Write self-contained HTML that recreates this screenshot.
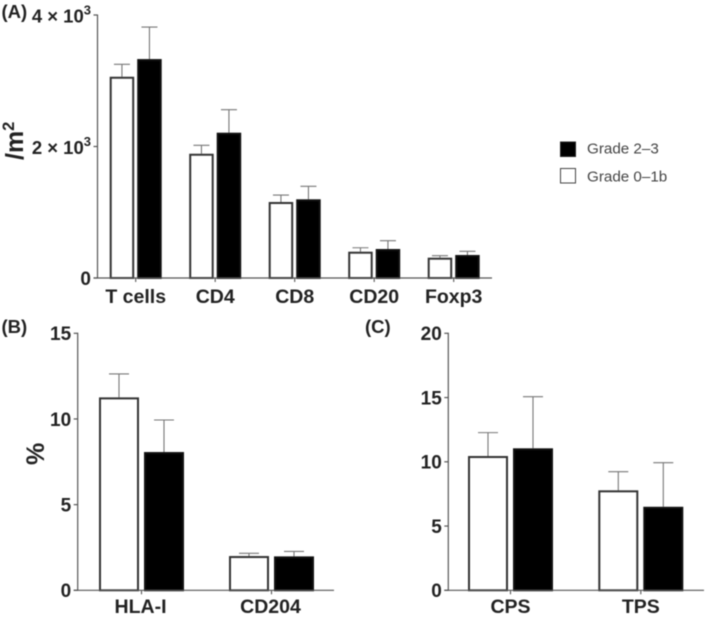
<!DOCTYPE html>
<html>
<head>
<meta charset="utf-8">
<title>Immune marker bar charts</title>
<style>
html,body{margin:0;padding:0;background:#fff;}
body{width:709px;height:618px;overflow:hidden;}
svg{display:block;filter:blur(0.45px);}
text{font-family:"Liberation Sans",sans-serif;font-weight:bold;fill:#222;}
</style>
</head>
<body>
<svg id="chart" width="709" height="618" viewBox="0 0 709 618" xmlns="http://www.w3.org/2000/svg"></svg>
<script>
// Panel A data
const aCategories = ['T cells', 'CD4', 'CD8', 'CD20', 'Foxp3'];
const aLow = [3061, 1890, 1156, 400, 309];
const aLowErr = [189, 128, 106, 60, 30];
const aHigh = [3330, 2210, 1197, 441, 350];
const aHighErr = [487, 350, 197, 126, 56];
const aTicks = [0, 2000, 4000];
const aTickLabels = ['0', '2 × 10', '4 × 10'];

// Panel B data
const bCategories = ['HLA-I', 'CD204'];
const bLow = [11.26, 2.0];
const bLowErr = [1.37, 0.16];
const bHigh = [8.07, 1.98];
const bHighErr = [1.87, 0.29];
const bTicks = [0, 5, 10, 15];

// Panel C data
const cCategories = ['CPS', 'TPS'];
const cLow = [10.45, 7.78];
const cLowErr = [1.82, 1.45];
const cHigh = [11.05, 6.5];
const cHighErr = [4.02, 3.43];
const cTicks = [0, 5, 10, 15, 20];

const svg = document.getElementById('chart');
const NS = 'http://www.w3.org/2000/svg';

function add(parent, tag, attrs, text) {
  const el = document.createElementNS(NS, tag);
  for (const k in attrs) el.setAttribute(k, attrs[k]);
  if (text !== undefined) el.textContent = text;
  parent.appendChild(el);
  return el;
}

function drawPanel(cfg) {
  const g = add(svg, 'g', {});
  
  
  const yScale = v => cfg.y0 - (v / cfg.yMax) * (cfg.y0 - cfg.yTop);
  const xCenter = i => cfg.firstCenter + i * cfg.groupStep;

  // bars and error bars
  cfg.categories.forEach((cat, i) => {
    const c = xCenter(i);
    [[cfg.low, cfg.lowErr, -1], [cfg.high, cfg.highErr, 1]].forEach(s => {
      const val = s[0][i], err = s[1][i], side = s[2];
      const left = side < 0 ? c - cfg.gap - cfg.barW : c + cfg.gap;
      const mid = left + cfg.barW / 2;
      const top = yScale(val), errTop = yScale(val + err);
      const eb = add(g, 'path', {
        d: 'M' + mid + ' ' + top + 'V' + errTop + 'M' + (mid - cfg.cap) + ' ' + errTop + 'H' + (mid + cfg.cap),
        stroke: '#777', 'stroke-width': 1.1, fill: 'none'
      });
      
      
      const bar = add(g, 'rect', {
        x: left + 1, y: top + 1, width: cfg.barW - 2, height: Math.max(0, cfg.y0 - top - 1),
        fill: side < 0 ? '#fff' : '#000', stroke: side < 0 ? '#333' : '#111', 'stroke-width': 2
      });
      
      
    });
    const tick = add(g, 'line', {x1: c, x2: c, y1: cfg.y0, y2: cfg.y0 + 4, stroke: '#555', 'stroke-width': 1.1});
    
    
    const label = add(g, 'text', {x: c + cfg.catDx, y: cfg.y0 + cfg.catDy, 'text-anchor': 'middle', 'font-size': cfg.catSize}, cat);
    
    
  });

  // axes
  const yAxis = add(g, 'line', {x1: cfg.axisX, x2: cfg.axisX, y1: cfg.yTop - 0.5, y2: cfg.y0 + 0.5, stroke: '#555', 'stroke-width': 1.2});
  
  
  const xAxis = add(g, 'line', {x1: cfg.axisX - 4, x2: cfg.axisEnd, y1: cfg.y0, y2: cfg.y0, stroke: '#555', 'stroke-width': 1.2});
  
  

  cfg.ticks.forEach((t, i) => {
    const y = yScale(t);
    const tick = add(g, 'line', {x1: cfg.axisX - 4, x2: cfg.axisX, y1: y, y2: y, stroke: '#555', 'stroke-width': 1.2});
    
    
    const label = add(g, 'text', {x: cfg.axisX - 6.5, y: y + 6.8, 'text-anchor': 'end', 'font-size': 19});
    
    
    if (cfg.tickLabels && t !== 0) {
      add(label, 'tspan', {'font-size': 18.5, y: y + 7.5}, cfg.tickLabels[i]);
      add(label, 'tspan', {'font-size': 13, dy: -8}, '3');
    } else {
      label.textContent = cfg.tickLabels ? cfg.tickLabels[i] : String(t);
    }
  });
}

drawPanel({
  name: 'panel-a', categories: aCategories, low: aLow, lowErr: aLowErr, high: aHigh, highErr: aHighErr,
  ticks: aTicks, tickLabels: aTickLabels, yMax: 4000, y0: 278, yTop: 15, axisX: 97.5, axisEnd: 492,
  firstCenter: 135.7, groupStep: 79.5, barW: 24.5, gap: 1.5, cap: 8, catSize: 19.5, catDx: 0, catDy: 25
});
drawPanel({
  name: 'panel-b', categories: bCategories, low: bLow, lowErr: bLowErr, high: bHigh, highErr: bHighErr,
  ticks: bTicks, yMax: 15, y0: 590.3, yTop: 333.3, axisX: 77.7, axisEnd: 334,
  firstCenter: 141.5, groupStep: 130, barW: 40, gap: 2.5, cap: 10, catSize: 19.5, catDx: -1, catDy: 22.5
});
drawPanel({
  name: 'panel-c', categories: cCategories, low: cLow, lowErr: cLowErr, high: cHigh, highErr: cHighErr,
  ticks: cTicks, yMax: 20, y0: 590.3, yTop: 333.3, axisX: 448.3, axisEnd: 704,
  firstCenter: 510.5, groupStep: 130.3, barW: 40, gap: 2.5, cap: 10, catSize: 19.5, catDx: 0, catDy: 22.5
});

// Panel letters
[['(A)', 1.5, 18, 'panel-label-a'], ['(B)', 1.5, 333, 'panel-label-b'], ['(C)', 365, 333, 'panel-label-c']].forEach(p => {
  const t = add(svg, 'text', {x: p[1], y: p[2], 'font-size': 18.5}, p[0]);
  
  
});

// Y axis titles
const yTitleA = add(svg, 'text', {transform: 'translate(23,160) rotate(-90)', 'font-size': 25});


add(yTitleA, 'tspan', {}, '/m');
add(yTitleA, 'tspan', {'font-size': 16.5, dy: -9}, '2');

const yTitleB = add(svg, 'text', {transform: 'translate(44,465) rotate(-90)', 'font-size': 25}, '%');



// Legend
const legend = add(svg, 'g', {});


const legendHigh = add(legend, 'rect', {x: 560.5, y: 142, width: 15, height: 14.5, fill: '#000', stroke: '#222', 'stroke-width': 1});


const legendHighText = add(legend, 'text', {x: 587, y: 153.5, 'font-size': 15.2, style: 'font-weight:normal;fill:#444'}, 'Grade 2–3');


const legendLow = add(legend, 'rect', {x: 560.5, y: 168.5, width: 15, height: 14.5, fill: '#fff', stroke: '#444', 'stroke-width': 1});


const legendLowText = add(legend, 'text', {x: 587, y: 181.5, 'font-size': 15.2, style: 'font-weight:normal;fill:#444'}, 'Grade 0–1b');


</script>
</body>
</html>
